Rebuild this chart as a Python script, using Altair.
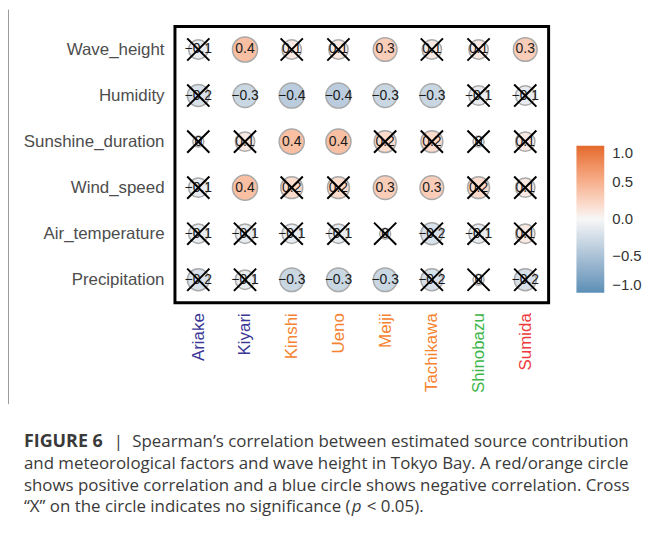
import altair as alt
import pandas as pd

rows = ["Wave_height", "Humidity", "Sunshine_duration", "Wind_speed",
        "Air_temperature", "Precipitation"]
cols = ["Ariake", "Kiyari", "Kinshi", "Ueno", "Meiji", "Tachikawa",
        "Shinobazu", "Sumida"]

wave_height = [-0.1, 0.4, 0.1, 0.1, 0.3, 0.1, 0.1, 0.3]
humidity = [-0.2, -0.3, -0.4, -0.4, -0.3, -0.3, -0.1, -0.1]
sunshine = [0.0, 0.1, 0.4, 0.4, 0.2, 0.2, 0.0, 0.1]
wind_speed = [-0.1, 0.4, 0.2, 0.2, 0.3, 0.3, 0.2, 0.1]
air_temp = [-0.1, -0.1, -0.1, -0.1, 0.0, -0.2, -0.1, 0.1]
precip = [-0.2, -0.1, -0.3, -0.3, -0.3, -0.2, 0.0, -0.2]

sig_wave = [0, 1, 0, 0, 1, 0, 0, 1]
sig_hum = [0, 1, 1, 1, 1, 1, 0, 0]
sig_sun = [0, 0, 1, 1, 0, 0, 0, 0]
sig_wind = [0, 1, 0, 0, 1, 1, 0, 0]
sig_air = [0, 0, 0, 0, 0, 0, 0, 0]
sig_pre = [0, 0, 1, 1, 1, 0, 0, 0]

col_colors = {"Ariake": "#3B3796", "Kiyari": "#3B3796", "Kinshi": "#F5832F",
              "Ueno": "#F5832F", "Meiji": "#F5832F", "Tachikawa": "#F5832F",
              "Shinobazu": "#3DB54A", "Sumida": "#EE3A3C"}

values = [wave_height, humidity, sunshine, wind_speed, air_temp, precip]
sigs = [sig_wave, sig_hum, sig_sun, sig_wind, sig_air, sig_pre]

recs = []
for r, vals, ss in zip(rows, values, sigs):
    for c, v, s in zip(cols, vals, ss):
        lab = "0" if v == 0 else f"{v:.1f}".replace("-", "\u2212")
        recs.append({"row": r, "col": c, "r": v, "absr": abs(v),
                     "label": lab, "sig": bool(s)})
df = pd.DataFrame(recs)

expr = "".join(f"datum.value == '{k}' ? '{v}' : " for k, v in col_colors.items()) + "'#333'"

xenc = alt.X("col:N", sort=cols, title=None,
             scale=alt.Scale(paddingInner=0, paddingOuter=0.1),
             axis=alt.Axis(labelAngle=270, domain=False, ticks=False, labelPadding=10,
                           labelFontSize=17, labelFont="Liberation Sans",
                           labelColor=alt.ExprRef(expr)))
yenc = alt.Y("row:N", sort=rows, title=None,
             scale=alt.Scale(paddingInner=0, paddingOuter=0.07),
             axis=alt.Axis(domain=False, ticks=False, labelPadding=11,
                           labelFontSize=17, labelFont="Liberation Sans",
                           labelColor="#4D4D4D"))

base = alt.Chart(df)

circles = base.mark_circle(opacity=1, stroke="#A9A9A9", strokeWidth=1.5).encode(
    x=xenc, y=yenc,
    color=alt.Color("r:Q", title=None,
                    scale=alt.Scale(domain=[-1, 0, 1],
                                    range=["#5B8FB6", "#F7F7F7", "#E4692B"],
                                    interpolate="lab"),
                    legend=alt.Legend(orient="none", legendX=404, legendY=120,
                                      direction="vertical", gradientLength=148,
                                      gradientThickness=28, padding=0,
                                      values=[-1, -0.5, 0, 0.5, 1], format=".1f",
                                      labelFontSize=15, labelFont="Liberation Sans",
                                      labelColor="#333333", labelOffset=8)),
    size=alt.Size("absr:Q", legend=None,
                  scale=alt.Scale(type="sqrt", domain=[0, 0.4], range=[123, 638])),
)

texts = base.mark_text(fontSize=14, font="Liberation Sans", color="#1A1A1A").encode(
    x=xenc, y=yenc, text="label:N")

crosses = base.transform_filter("!datum.sig").mark_point(
    shape="M -1 -1 L 1 1 M -1 1 L 1 -1", filled=False, stroke="black",
    strokeWidth=2, size=500, opacity=1).encode(x=xenc, y=yenc)

one = pd.DataFrame({"k": [0]})

def cap(text, x, y, align="left", weight="normal", style="normal", size=17):
    return alt.Chart(one).mark_text(
        text=text, align=align, baseline="middle", font="Open Sans",
        fontSize=size, fontWeight=weight, fontStyle=style, color="#3A3A3A"
    ).encode(x=alt.value(x), y=alt.value(y))

caption = [
    cap("FIGURE 6", -152, 418, weight="bold", size=18),
    cap("|", -57, 418, align="center"),
    cap("Spearman\u2019s correlation between estimated source contribution", -43, 418),
    cap("and meteorological factors and wave height in Tokyo Bay. A red/orange circle", -152, 440),
    cap("shows positive correlation and a blue circle shows negative correlation. Cross", -152, 462),
    cap("\u201cX\u201d on the circle indicates no significance (", -152, 484),
    cap("p", 178, 484, style="italic"),
    cap("< 0.05).", 193, 484),
]

edge = alt.Chart(one).mark_rule(color="#9A9A9A", strokeWidth=1).encode(
    x=alt.value(-167.5), y=alt.value(-17), y2=alt.value(380))

chart = alt.layer(circles, texts, crosses, edge, *caption).properties(
    width=376, height=278,
    autosize=alt.AutoSizeParams(type="none"),
    padding={"left": 168, "top": 17, "right": 100, "bottom": 218},
    background="white",
).configure_view(stroke="black", strokeWidth=3)

chart.save("out.html", embed_options={"renderer": "svg", "actions": False})
